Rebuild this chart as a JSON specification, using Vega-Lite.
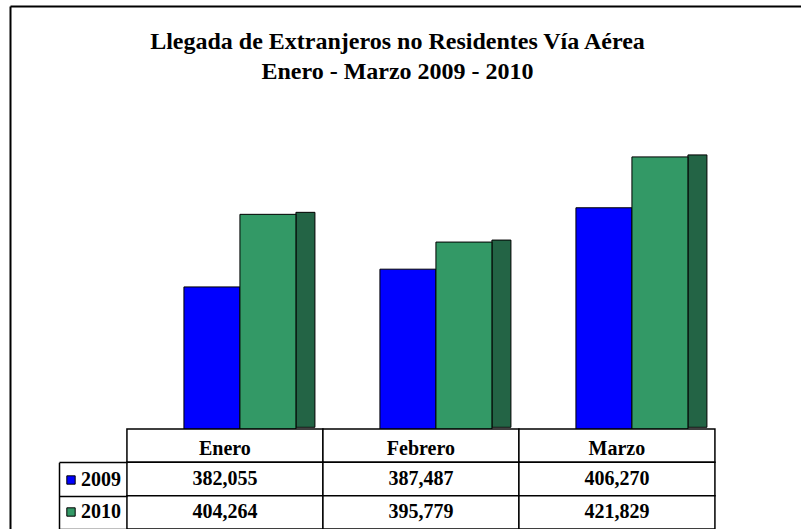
{
  "$schema": "https://vega.github.io/schema/vega-lite/v6.json",
  "width": 791,
  "height": 523,
  "autosize": {"type": "none"},
  "padding": {"left": 10, "top": 6, "right": 0, "bottom": 0},
  "background": "white",
  "title": {
    "text": ["Llegada de Extranjeros no Residentes Vía Aérea", "Enero  - Marzo 2009 - 2010"],
    "orient": "top",
    "anchor": "middle",
    "frame": "group",
    "offset": -78,
    "dx": -8,
    "font": "Liberation Serif",
    "fontSize": 24,
    "fontWeight": "bold",
    "lineHeight": 30,
    "color": "black"
  },
  "config": {"view": {"stroke": null}, "font": "Liberation Serif"},
  "data": {
    "values": [
      {"Mes": "Enero", "Año": "2009", "Llegadas": 382055},
      {"Mes": "Febrero", "Año": "2009", "Llegadas": 387487},
      {"Mes": "Marzo", "Año": "2009", "Llegadas": 406270},
      {"Mes": "Enero", "Año": "2010", "Llegadas": 404264},
      {"Mes": "Febrero", "Año": "2010", "Llegadas": 395779},
      {"Mes": "Marzo", "Año": "2010", "Llegadas": 421829}
    ]
  },
  "layer": [
    {
      "encoding": {
        "x": {
          "field": "Mes", "type": "nominal", "sort": ["Enero", "Febrero", "Marzo"],
          "scale": {"paddingInner": 0, "paddingOuter": 0.5179, "align": 0.576},
          "axis": {"orient": "top", "domain": true, "domainColor": "black", "domainWidth": 2, "ticks": false, "labels": false, "grid": false, "title": null}
        },
        "y": {
          "field": "Llegadas", "type": "quantitative",
          "scale": {"domain": [308000, 468000], "zero": false, "nice": false},
          "axis": {"orient": "left", "domain": true, "domainColor": "black", "domainWidth": 2, "ticks": false, "labels": false, "grid": false, "title": null}
        },
        "y2": {"datum": 338500}
      },
      "layer": [
        {
          "transform": [{"filter": "datum['Año'] == '2010'"}],
          "mark": {"type": "bar", "width": 19, "xOffset": 80.5, "yOffset": -2, "y2Offset": -2, "fill": "#236445", "stroke": "black", "strokeWidth": 1}
        },
        {
          "mark": {"type": "bar", "stroke": "black", "strokeWidth": 1},
          "encoding": {
            "xOffset": {"field": "Año", "type": "nominal", "scale": {"range": [57, 169], "paddingInner": 0, "paddingOuter": 0}},
            "color": {
              "field": "Año", "type": "nominal",
              "scale": {"domain": ["2009", "2010"], "range": ["#0000FF", "#339966"]},
              "legend": {
                "orient": "none", "legendX": 51, "legendY": 464, "title": null, "padding": 0,
                "symbolType": "square", "symbolSize": 70, "symbolStrokeColor": "black", "symbolStrokeWidth": 1,
                "labelFont": "Liberation Serif", "labelFontSize": 20, "labelFontWeight": "bold", "labelColor": "black",
                "labelOffset": 0, "rowPadding": 12
              }
            }
          }
        }
      ]
    },
    {
      "encoding": {
        "x": {
          "field": "Mes", "type": "nominal", "sort": ["Enero", "Febrero", "Marzo"],
          "scale": {"paddingInner": 0, "paddingOuter": 0.5179, "align": 0.576},
          "axis": {"orient": "top", "domain": true, "domainColor": "black", "domainWidth": 2, "ticks": false, "labels": false, "grid": false, "title": null}
        }
      },
      "layer": [
        {
          "transform": [{"filter": "datum['Año'] == '2009'"}],
          "mark": {"type": "rect", "fill": "white", "stroke": "black", "strokeWidth": 1.5},
          "encoding": {
            "y": {
              "datum": "Mes", "type": "nominal",
              "scale": {"domain": ["Mes", "2009", "2010"], "range": [423, 523], "paddingInner": 0, "paddingOuter": 0},
              "axis": {
                "orient": "left", "offset": -49, "values": ["2009", "2010"], "domain": true, "domainColor": "black", "domainWidth": 1.5,
                "domainDash": [0, 33.3, 300], "ticks": true, "tickBand": "extent", "tickSize": -68, "tickWidth": 1.5, "tickColor": "black",
                "labels": false, "grid": false, "title": null
              }
            }
          }
        },
        {
          "mark": {"type": "rect", "fill": "white", "stroke": "black", "strokeWidth": 1.5},
          "encoding": {
            "y": {
              "field": "Año", "type": "nominal",
              "scale": {"domain": ["Mes", "2009", "2010"], "range": [423, 523], "paddingInner": 0, "paddingOuter": 0},
              "axis": {
                "orient": "left", "offset": -49, "values": ["2009", "2010"], "domain": true, "domainColor": "black", "domainWidth": 1.5,
                "domainDash": [0, 33.3, 300], "ticks": true, "tickBand": "extent", "tickSize": -68, "tickWidth": 1.5, "tickColor": "black",
                "labels": false, "grid": false, "title": null
              }
            }
          }
        },
        {
          "transform": [{"filter": "datum['Año'] == '2009'"}],
          "mark": {"type": "text", "font": "Liberation Serif", "fontSize": 20, "fontWeight": "bold", "color": "black", "dy": 3},
          "encoding": {
            "y": {
              "datum": "Mes", "type": "nominal",
              "scale": {"domain": ["Mes", "2009", "2010"], "range": [423, 523], "paddingInner": 0, "paddingOuter": 0},
              "axis": {
                "orient": "left", "offset": -49, "values": ["2009", "2010"], "domain": true, "domainColor": "black", "domainWidth": 1.5,
                "domainDash": [0, 33.3, 300], "ticks": true, "tickBand": "extent", "tickSize": -68, "tickWidth": 1.5, "tickColor": "black",
                "labels": false, "grid": false, "title": null
              }
            },
            "text": {"field": "Mes"}
          }
        },
        {
          "mark": {"type": "text", "font": "Liberation Serif", "fontSize": 20, "fontWeight": "bold", "color": "black"},
          "encoding": {
            "y": {
              "field": "Año", "type": "nominal",
              "scale": {"domain": ["Mes", "2009", "2010"], "range": [423, 523], "paddingInner": 0, "paddingOuter": 0},
              "axis": {
                "orient": "left", "offset": -49, "values": ["2009", "2010"], "domain": true, "domainColor": "black", "domainWidth": 1.5,
                "domainDash": [0, 33.3, 300], "ticks": true, "tickBand": "extent", "tickSize": -68, "tickWidth": 1.5, "tickColor": "black",
                "labels": false, "grid": false, "title": null
              }
            },
            "text": {"field": "Llegadas", "type": "quantitative", "format": ",.0f"}
          }
        }
      ]
    }
  ],
  "resolve": {"scale": {"y": "independent"}}
}
